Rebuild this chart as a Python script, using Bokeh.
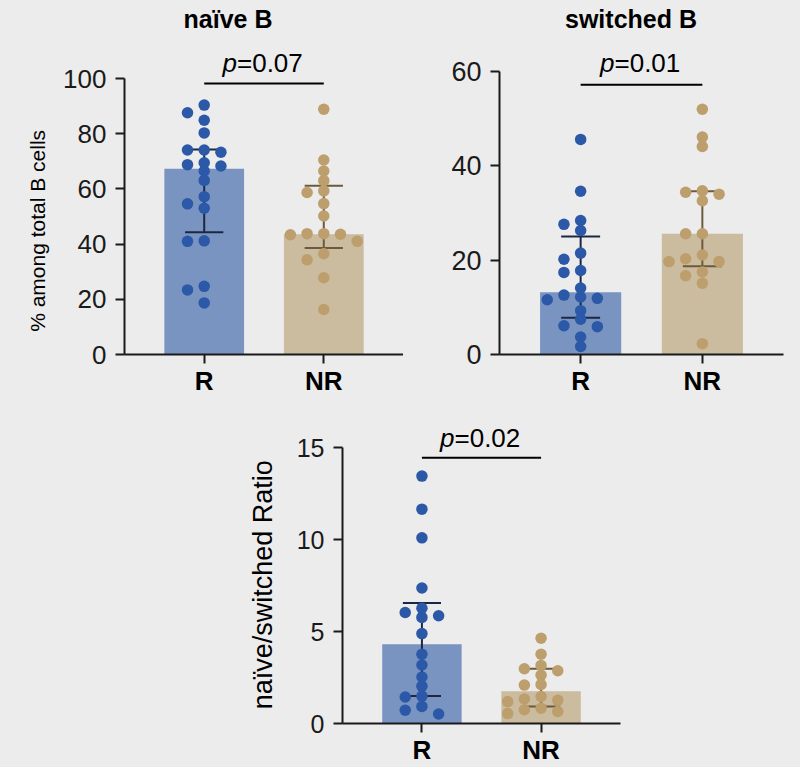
import math
from bokeh.plotting import figure
from bokeh.models import Label, FixedTicker, Range1d
from bokeh.layouts import column, row
from bokeh.core.properties import value
from bokeh.embed import file_html
from bokeh.resources import INLINE

# ---------------- data ----------------
categories = ["R", "NR"]

naive_R = [90.4, 87.6, 84.9, 80.3, 74.1, 73.3, 74.1, 68.8, 69.5, 68.3,
           66.5, 63.1, 57.2, 54.6, 53.0, 41.2, 41.0, 24.7, 23.4, 18.7]
naive_NR = [88.9, 70.5, 66.5, 63.0, 58.7, 59.3, 54.7, 50.2, 43.8, 43.8,
            43.4, 43.6, 41.0, 36.5, 34.3, 27.8, 16.3]
naive_median = [67.3, 43.6]
naive_q1 = [44.3, 38.6]
naive_q3 = [74.3, 61.2]

switched_R = [45.6, 34.6, 28.4, 27.6, 26.3, 21.5, 20.2, 17.8, 17.4, 14.1,
              12.6, 12.2, 11.9, 11.6, 9.3, 7.5, 6.1, 5.9, 3.7, 1.7]
switched_NR = [52.0, 46.1, 44.1, 34.7, 34.4, 34.0, 32.6, 25.6, 25.6, 21.1,
               20.3, 19.7, 19.7, 17.5, 16.7, 15.1, 2.3]
switched_median = [13.2, 25.6]
switched_q1 = [7.8, 18.7]
switched_q3 = [25.0, 34.6]

ratio_R = [13.46, 11.66, 10.10, 7.37, 6.27, 6.04, 5.86, 5.77, 4.89, 3.77,
           3.18, 2.53, 2.03, 1.49, 1.44, 0.93, 0.72, 0.52]
ratio_NR = [4.64, 3.77, 3.16, 2.98, 2.87, 2.63, 2.12, 2.09, 1.47, 1.33,
            1.26, 1.19, 0.83, 0.75, 0.65, 0.54]
ratio_median = [4.31, 1.76]
ratio_q1 = [1.49, 0.92]
ratio_q3 = [6.56, 2.98]

naive_ticks = [0, 20, 40, 60, 80, 100]
switched_ticks = [0, 20, 40, 60]
ratio_ticks = [0, 5, 10, 15]

p_naive = "0.07"
p_switched = "0.01"
p_ratio = "0.02"

titles = ["naïve B", "switched B"]
ylabels = ["% among total B cells", "naïve/switched Ratio"]

# ---------------- style ----------------
BG = "#ececec"
FONT = "Liberation Sans"
AX = "#1a1a1a"
R_DOT, NR_DOT = "#2c58a8", "#bc9f6c"
R_BAR, NR_BAR = "#7a94c2", "#cbbb9f"
R_ERR, NR_ERR = "#1c2843", "#6b5a3b"


def swarm_offsets(vals, ppy, ppx, slot_px=16.7, thresh=8.0):
    order = sorted(range(len(vals)), key=lambda i: -vals[i])
    placed = []
    out = [0.0] * len(vals)
    for i in order:
        y = vals[i] * ppy
        chosen = 0
        for k in (0, -1, 1, -2, 2, -3, 3, -4, 4):
            if all(not (s == k and abs(py - y) < thresh) for py, s in placed):
                chosen = k
                break
        placed.append((y, chosen))
        out[i] = chosen * slot_px / ppx
    return out


def label_fig(width, height, bb, text, tx, ty, fs):
    # narrow figure holding a rotated axis title; its frame is aligned
    # with the neighbouring plot frame (same bottom border)
    frame_h = height - bb
    f = figure(width=width, height=height, output_backend="svg",
               toolbar_location=None, title=None,
               x_range=Range1d(0, width), y_range=Range1d(0, frame_h),
               x_axis_type=None, y_axis_type=None, min_border=0,
               min_border_bottom=bb,
               background_fill_color=BG, border_fill_color=BG,
               outline_line_color=None)
    f.grid.visible = False
    f.text(x=[tx], y=[frame_h - ty], text=[text], angle=math.pi / 2,
           text_align="center", text_baseline="middle",
           text_font=value(FONT), text_font_size=value(f"{fs}px"),
           text_color="black")
    return f


def panel(width, height, bl, br, bb, axis_top, axis_top_px, ticks, tick_fs,
          vals_R, vals_NR, med, lo, hi, title, title_dx,
          pval, bracket_frac, pval_dy):
    frame_h = height - bb
    frame_w = width - bl - br
    y_end = axis_top * frame_h / (frame_h - axis_top_px)
    p = figure(width=width, height=height, output_backend="svg",
               toolbar_location=None, title=None,
               x_range=Range1d(1 / 3, 8 / 3), y_range=Range1d(0, y_end),
               min_border_left=bl, min_border_right=br, min_border_bottom=bb,
               min_border_top=0, background_fill_color=BG,
               border_fill_color=BG, outline_line_color=None)
    p.grid.visible = False
    ppx = frame_w / (7 / 3)
    ppy = frame_h / y_end
    xs = [i + 1 for i in range(len(categories))]

    p.vbar(x=xs, top=med, bottom=0, width=2 / 3,
           fill_color=[R_BAR, NR_BAR], line_color=None)

    cap = 0.16
    p.segment(x0=xs, x1=xs, y0=lo, y1=hi, line_color=[R_ERR, NR_ERR],
              line_width=2)
    p.segment(x0=[x - cap for x in xs] * 2, x1=[x + cap for x in xs] * 2,
              y0=lo + hi, y1=lo + hi, line_color=[R_ERR, NR_ERR] * 2,
              line_width=2)

    for xc, vals, col in ((xs[0], vals_R, R_DOT), (xs[1], vals_NR, NR_DOT)):
        offs = swarm_offsets(vals, ppy, ppx)
        p.scatter(x=[xc + o for o in offs], y=vals, size=11.5,
                  fill_color=col, line_color=None)

    by = axis_top * bracket_frac
    p.segment(x0=[xs[0]], x1=[xs[1]], y0=[by], y1=[by], line_color="black",
              line_width=2)
    p.add_layout(Label(x=1.5, y=by, x_offset=-27, y_offset=pval_dy, text="p",
                       text_font=FONT, text_font_style="italic",
                       text_font_size="26px", text_align="right",
                       text_baseline="middle", text_color="black"))
    p.add_layout(Label(x=1.5, y=by, x_offset=-27, y_offset=pval_dy,
                       text="=" + pval, text_font=FONT,
                       text_font_size="26px", text_align="left",
                       text_baseline="middle", text_color="black"))

    if title:
        p.add_layout(Label(x=1 / 3, y=y_end, x_offset=title_dx, y_offset=-18.5,
                           text=title, text_font=FONT, text_font_style="bold",
                           text_font_size="25px", text_align="center",
                           text_baseline="middle", text_color="black"))

    for ax in p.axis:
        ax.axis_line_width = 2
        ax.axis_line_color = AX
        ax.major_tick_line_width = 2
        ax.major_tick_line_color = AX
        ax.major_tick_in = 0
        ax.major_tick_out = 9
        ax.minor_tick_line_color = None
        ax.major_label_text_font = FONT
        ax.major_label_text_color = AX
    p.yaxis.bounds = (0, axis_top)
    p.yaxis.ticker = FixedTicker(ticks=ticks)
    p.yaxis.major_label_text_font_size = f"{tick_fs}px"
    p.yaxis.major_label_standoff = 9
    p.xaxis.ticker = FixedTicker(ticks=xs)
    p.xaxis.major_label_overrides = {x: c for x, c in zip(xs, categories)}
    p.xaxis.major_label_text_font_size = "26px"
    p.xaxis.major_label_text_font_style = "bold"
    p.xaxis.major_label_text_color = "black"
    p.xaxis.major_label_standoff = 2
    return p


lab1 = label_fig(55, 400, 45, ylabels[0], 36.7, 231, 21)
p1 = panel(348, 400, 69, 0, 45, 100, 78.3, naive_ticks, 26,
           naive_R, naive_NR, naive_median, naive_q1, naive_q3,
           titles[0], 103.5, p_naive, 0.982, 21)
p2 = panel(397, 400, 96, 17, 46, 60, 71, switched_ticks, 27,
           switched_R, switched_NR, switched_median, switched_q1, switched_q3,
           titles[1], 131.5, p_switched, 0.953, 22)
lab3 = label_fig(290, 367, 41, ylabels[1], 262, 186, 27)
p3 = panel(510, 367, 52, 180, 41, 15, 47.7, ratio_ticks, 25,
           ratio_R, ratio_NR, ratio_median, ratio_q1, ratio_q3,
           "", 0, p_ratio, 0.964, 20)

layout = column(row(lab1, p1, p2), row(lab3, p3),
                styles={"background-color": BG})

open("out.html", "w").write(file_html(layout, INLINE))
